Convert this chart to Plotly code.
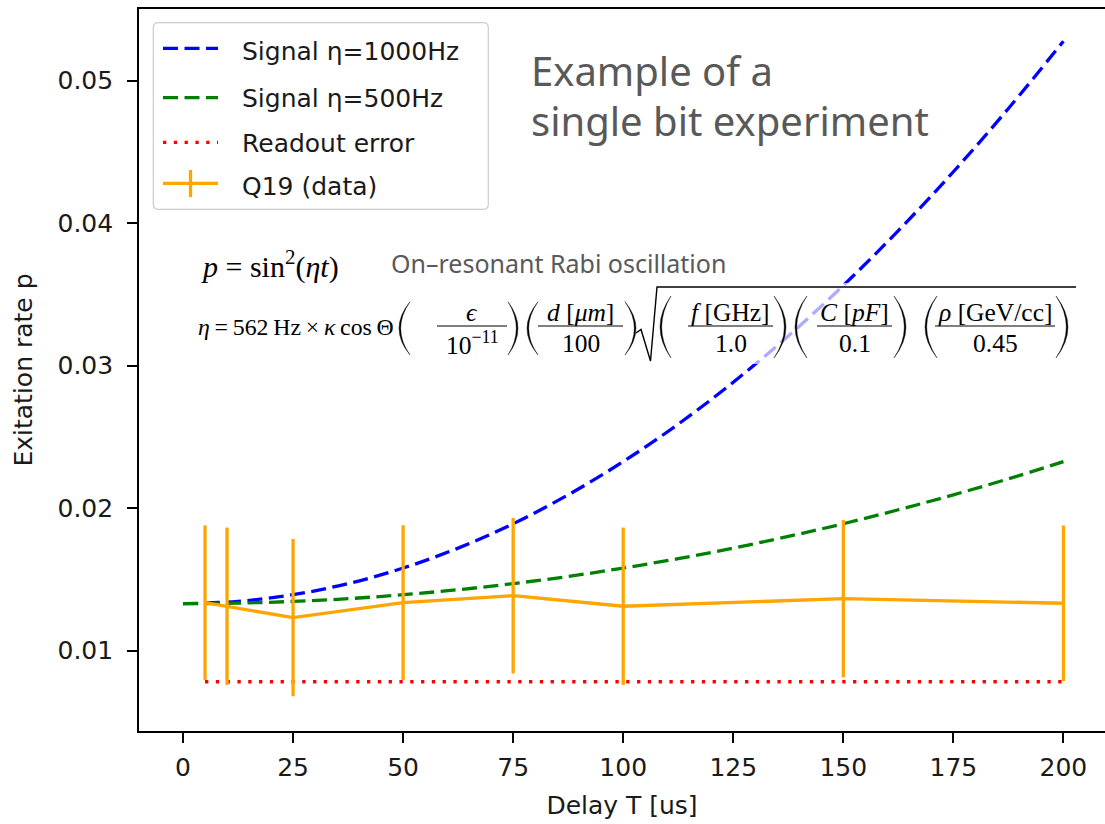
import plotly.graph_objects as go

# ---------------- data ----------------
delay_fit = [0, 12.5, 25, 37.5, 50, 62.5, 75, 87.5, 100, 112.5, 125, 137.5, 150,
             162.5, 175, 187.5, 200]
signal_1000hz = [0.01330, 0.01346, 0.01393, 0.01471, 0.01580, 0.01720, 0.01891, 0.02094,
                 0.02327, 0.02590, 0.02884, 0.03209, 0.03563, 0.03948, 0.04361, 0.04805,
                 0.05277]
signal_500hz = [0.01330, 0.01334, 0.01346, 0.01365, 0.01393, 0.01428, 0.01471, 0.01521,
                0.01580, 0.01646, 0.01720, 0.01802, 0.01891, 0.01989, 0.02094, 0.02206,
                0.02327]
delay_data = [5, 10, 25, 50, 75, 100, 150, 200]
q19_rate = [0.01337, 0.01312, 0.01232, 0.01337, 0.01386, 0.01312, 0.01365, 0.01333]
q19_err = [0.00542, 0.00552, 0.00552, 0.00543, 0.00546, 0.00552, 0.00552, 0.00546]
readout_error = [0.00782, 0.00782, 0.00782, 0.00782, 0.00782, 0.00782, 0.00782, 0.00782]

x_ticks = [0, 25, 50, 75, 100, 125, 150, 175, 200]
y_ticks = [0.01, 0.02, 0.03, 0.04, 0.05]
y_ticktext = ["0.01", "0.02", "0.03", "0.04", "0.05"]

legend_labels = ["Signal η=1000Hz", "Signal η=500Hz", "Readout error", "Q19 (data)"]

# ---------------- layout geometry ----------------
W, H = 1105, 824
ML, MT, MR, MB = 139, 9, 0, 93
PW, PH = W - ML - MR, H - MT - MB


def px(x):
    return (x - ML) / PW


def py(y):
    return (MT + PH - y) / PH


SANS = "DejaVu Sans"
SERIF = "Liberation Serif"
NOTO = "Noto Sans"
GRAY = "#595959"
BLUE, GREEN, RED, ORANGE = "#0000FF", "#008000", "#FF0000", "#FFA500"
LW = 3.3
DASH = "15px,6.5px"
DOT = "3.3px,7.5px"

fig = go.Figure()
fig.add_trace(go.Scatter(x=delay_fit, y=signal_1000hz, mode="lines",
                         line=dict(color=BLUE, width=LW, dash=DASH, shape="spline"),
                         name=legend_labels[0]))
fig.add_trace(go.Scatter(x=delay_fit, y=signal_500hz, mode="lines",
                         line=dict(color=GREEN, width=LW, dash=DASH, shape="spline"),
                         name=legend_labels[1]))
fig.add_trace(go.Scatter(x=delay_data, y=readout_error, mode="lines",
                         line=dict(color=RED, width=LW, dash=DOT),
                         name=legend_labels[2]))
fig.add_trace(go.Scatter(x=delay_data, y=q19_rate, mode="lines",
                         line=dict(color=ORANGE, width=LW),
                         error_y=dict(type="data", array=q19_err, visible=True,
                                      thickness=LW, width=0, color=ORANGE),
                         name=legend_labels[3]))

shapes = []
annotations = []


def line_shape(x0, y0, x1, y1, color="black", width=1.4, dash="solid"):
    shapes.append(dict(type="line", xref="paper", yref="paper",
                       x0=px(x0), y0=py(y0), x1=px(x1), y1=py(y1),
                       line=dict(color=color, width=width, dash=dash), layer="above"))


def path_shape(points_cmds, fill=None, color="black", width=0):
    parts = []
    for cmd in points_cmds:
        if isinstance(cmd, str):
            parts.append(cmd)
        else:
            parts.append("%.6f,%.6f" % (px(cmd[0]), py(cmd[1])))
    d = dict(type="path", xref="paper", yref="paper", path=" ".join(parts), layer="above",
             line=dict(color=color, width=width))
    if fill:
        d["fillcolor"] = fill
    shapes.append(d)


def text(x, y, s, size, font=SERIF, color="black", xanchor="center", yanchor="middle"):
    annotations.append(dict(x=px(x), y=py(y), xref="paper", yref="paper", text=s,
                            showarrow=False, xanchor=xanchor, yanchor=yanchor,
                            font=dict(family=font, size=size, color=color)))


# white translucent box behind the formula
shapes.append(dict(type="rect", xref="paper", yref="paper", x0=px(190), x1=px(1080),
                   y0=py(364), y1=py(283), fillcolor="rgba(255,255,255,0.68)",
                   line=dict(width=0), layer="above"))

# ---------------- legend (manual, matplotlib style) ----------------
lx0, ly0, lx1, ly1, r = 153.3, 22.7, 488.3, 209.3, 5
path_shape(["M", (lx0 + r, ly0), "L", (lx1 - r, ly0), "Q", (lx1, ly0), (lx1, ly0 + r),
            "L", (lx1, ly1 - r), "Q", (lx1, ly1), (lx1 - r, ly1), "L", (lx0 + r, ly1),
            "Q", (lx0, ly1), (lx0, ly1 - r), "L", (lx0, ly0 + r), "Q", (lx0, ly0),
            (lx0 + r, ly0), "Z"], fill="rgba(255,255,255,0.8)", color="#cccccc", width=1.2)
leg_y = [48.3, 97.7, 142.3, 183.3]
leg_txt_y = [51.4, 98.0, 143.0, 186.4]
leg_style = [(BLUE, DASH), (GREEN, DASH), (RED, DOT), (ORANGE, "solid")]
for i in range(4):
    c, dsh = leg_style[i]
    line_shape(163, leg_y[i], 218, leg_y[i], color=c, width=LW, dash=dsh)
    text(240, leg_txt_y[i], legend_labels[i], 25, font=SANS, color="#1a1a1a",
         xanchor="left")
line_shape(190.5, 170, 190.5, 197, color=ORANGE, width=LW)

# ---------------- headline text ----------------
text(529, 71, "Example of a", 40, font=NOTO, color=GRAY, xanchor="left")
text(529, 121, "single bit experiment", 40, font=NOTO, color=GRAY, xanchor="left")
text(389, 262.8, "On\u2013resonant Rabi oscillation", 25, font=NOTO, color=GRAY,
     xanchor="left")

# ---------------- formulas ----------------
text(199, 264, "<i>p</i> = sin<sup>2</sup>(<i>ηt</i>)", 30, xanchor="left")
text(196, 327, "<i>η</i>\u2009=\u2009562\u2009Hz\u2009×\u2009<i>κ</i>\u2009cos\u2009Θ", 23.8,
     xanchor="left")

fracs = [
    (472, 437, 507, "<i>ϵ</i>", "10<sup>\u221211</sup>"),
    (580.5, 538, 623, "<i>d</i> [<i>μm</i>]", "100"),
    (730.5, 688, 773, "<i>f</i> [GHz]", "1.0"),
    (854.5, 817, 892, "<i>C</i> [<i>pF</i>]", "0.1"),
    (995, 935, 1055, "<i>ρ</i> [GeV/cc]", "0.45"),
]
for cx, b0, b1, num, den in fracs:
    line_shape(b0, 326, b1, 326, width=1.2)
    text(cx, 312, num, 25.5)
    text(cx, 343.5, den, 25.5)


def paren(xl, xr, yt, yb, left=True):
    ym = (yt + yb) / 2
    t = 1.7
    if left:
        c_out = 2 * xl - xr
        c_in = 2 * (xl + t) - xr
        path_shape(["M", (xr, yt), "Q", (c_out, ym), (xr, yb), "Q", (c_in, ym), (xr, yt), "Z"],
                   fill="black", color="black", width=0.4)
    else:
        c_out = 2 * xr - xl
        c_in = 2 * (xr - t) - xl
        path_shape(["M", (xl, yt), "Q", (c_out, ym), (xl, yb), "Q", (c_in, ym), (xl, yt), "Z"],
                   fill="black", color="black", width=0.4)


paren(399, 410, 301.7, 355, True)
paren(508, 518, 301.7, 355, False)
paren(527, 538, 301.7, 355, True)
paren(625, 636, 301.7, 355, False)
paren(660, 671, 296, 358, True)
paren(774, 786, 296, 358, False)
paren(795, 807, 296, 358, True)
paren(894, 906, 296, 358, False)
paren(925, 937, 296, 358, True)
paren(1056, 1068, 296, 358, False)

# square root sign
path_shape(["M", (636, 333), "L", (641, 329.5), "L", (650.5, 361), "L", (657, 287),
            "L", (1076, 287)], color="black", width=1.4)

# ---------------- axes ----------------
fig.update_layout(
    width=W, height=H, margin=dict(l=ML, r=MR, t=MT, b=MB),
    paper_bgcolor="white", plot_bgcolor="white", showlegend=False,
    shapes=shapes, annotations=annotations,
    xaxis=dict(range=[-10, -10 + PW / 4.402], tickvals=x_ticks, ticks="outside",
               ticklen=10, tickwidth=1.6, tickcolor="black", showline=True,
               linecolor="black", linewidth=1.6, mirror=True, showgrid=False,
               zeroline=False, ticklabelstandoff=3,
               tickfont=dict(family=SANS, size=25, color="#1a1a1a"),
               title=dict(text="Delay T [us]", standoff=16,
                          font=dict(family=SANS, size=25, color="#1a1a1a"))),
    yaxis=dict(range=[0.01 - (731 - 650.7) / 14250, 0.01 + (650.7 - 9) / 14250],
               tickvals=y_ticks, ticktext=y_ticktext, ticks="outside",
               ticklen=10, tickwidth=1.6, tickcolor="black", showline=True,
               linecolor="black", linewidth=1.6, mirror=False, showgrid=False,
               zeroline=False, ticklabelstandoff=9,
               tickfont=dict(family=SANS, size=25, color="#1a1a1a"),
               title=dict(text="Exitation rate p", standoff=18,
                          font=dict(family=SANS, size=25, color="#1a1a1a"))),
)

fig.write_html("out.html")
